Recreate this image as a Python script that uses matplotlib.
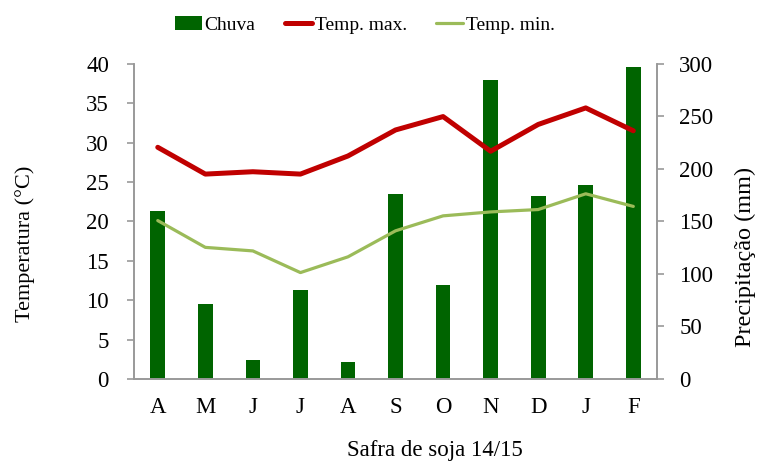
import matplotlib.pyplot as plt
import numpy as np

months = ['A', 'M', 'J', 'J', 'A', 'S', 'O', 'N', 'D', 'J', 'F']
chuva = [160, 71, 18, 85, 16, 176, 89, 285, 174, 185, 297]
temp_max = [29.4, 26.0, 26.3, 26.0, 28.3, 31.6, 33.3, 28.9, 32.3, 34.4, 31.5]
temp_min = [20.1, 16.7, 16.25, 13.5, 15.5, 18.8, 20.7, 21.2, 21.5, 23.5, 21.9]

plt.rcParams['font.family'] = 'Liberation Serif'
plt.rcParams['font.size'] = 16.5

fig = plt.figure(figsize=(7.57, 4.69), dpi=100)
ax1 = fig.add_axes([0.177, 0.192, 0.691, 0.672])
ax2 = ax1.twinx()

x = np.arange(len(months))
bars = ax2.bar(x, chuva, width=0.31, color='#006400', label='Chuva')
l1, = ax1.plot(x, temp_max, color='#C00000', lw=3.6, label='Temp. max.',
               solid_capstyle='round', solid_joinstyle='round')
l2, = ax1.plot(x, temp_min, color='#9BBB59', lw=2.3, label='Temp. min.',
               solid_capstyle='round', solid_joinstyle='round')

# linhas por cima das barras
ax1.set_zorder(ax2.get_zorder() + 1)
ax1.patch.set_visible(False)

ax1.set_xlim(-0.5, 10.5)
ax1.set_ylim(0, 40)
ax2.set_ylim(0, 300)
ax1.set_yticks(range(0, 41, 5))
ax2.set_yticks(range(0, 301, 50))
ax1.set_xticks(x)
ax1.set_xticklabels(months)

gray = '#999999'
for ax in (ax1, ax2):
    ax.spines['top'].set_visible(False)
    for s in ('left', 'right', 'bottom'):
        ax.spines[s].set_color(gray)
        ax.spines[s].set_linewidth(1.2)
    ax.tick_params(axis='x', length=0, pad=13)
ax1.tick_params(axis='y', color=gray, length=5, width=1.2, pad=13)
ax2.tick_params(axis='y', color=gray, length=5, width=1.2, pad=11)

ax1.set_ylabel('Temperatura (°C)', fontsize=16)
ax1.yaxis.set_label_coords(-0.19, 0.429)
ax2.set_ylabel('Precipitação (mm)', fontsize=17.5)
ax2.yaxis.set_label_coords(1.149, 0.386)
ax1.set_xlabel('Safra de soja 14/15')
ax1.xaxis.set_label_coords(0.575, -0.195)

fig.legend(handles=[bars, l1, l2], loc='center', ncol=3,
           bbox_to_anchor=(0.482, 0.947), frameon=False, handlelength=1.4,
           handletextpad=0.15, columnspacing=1.5, fontsize=14)

fig.savefig('out.png', dpi=100)
